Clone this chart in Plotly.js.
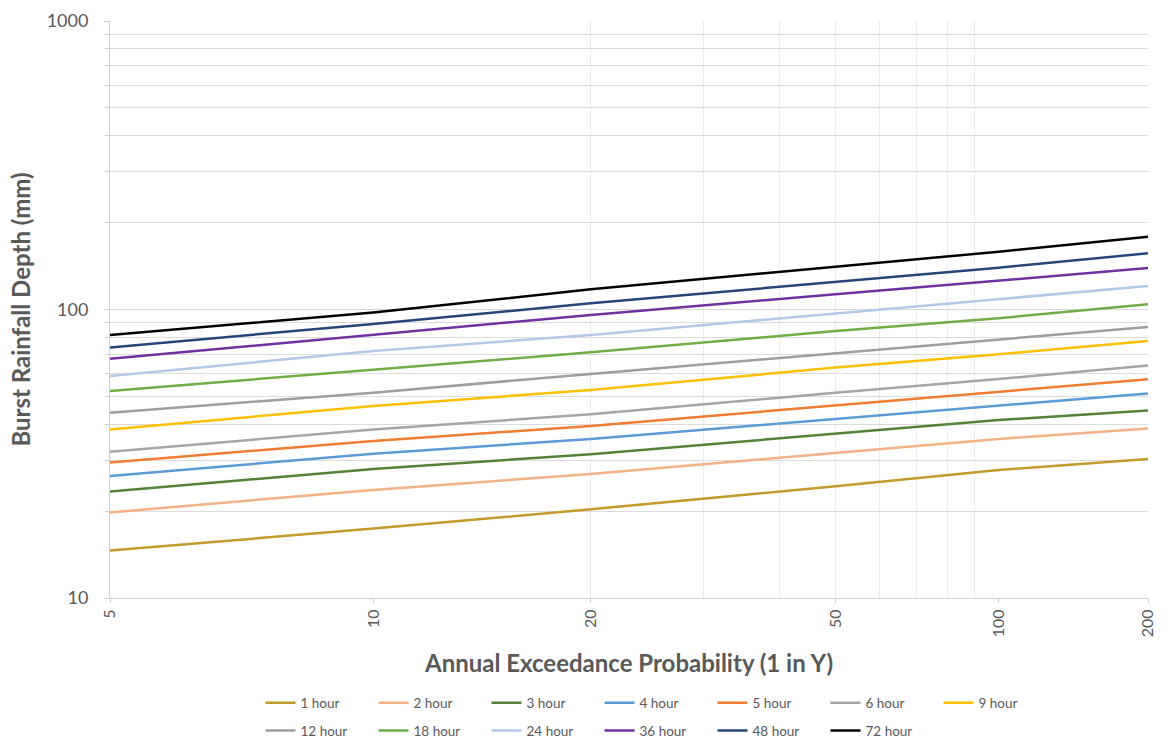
<!DOCTYPE html>
<html>
<head>
<meta charset="utf-8">
<script src="https://cdn.plot.ly/plotly-3.0.1.min.js"></script>
<style>
  html, body { margin: 0; padding: 0; background: #ffffff; }
  #chart { width: 1171px; height: 742px; }
</style>
</head>
<body>
<div id="chart"></div>
<script>
// ---- Data ----
const aep = [5, 10, 20, 50, 100, 200];           // Annual Exceedance Probability (1 in Y)
const xTickLabels = [5, 10, 20, 50, 100, 200];
const xMinorGrid = [20, 30, 40, 50, 60, 70, 80, 90];
const xMajorGrid = [10, 100];
const yTickLabels = [10, 100, 1000];
const yMinorTicks = [20, 30, 40, 50, 60, 70, 80, 90, 200, 300, 400, 500, 600, 700, 800, 900];

const durations = ['1 hour', '2 hour', '3 hour', '4 hour', '5 hour', '6 hour', '9 hour',
                   '12 hour', '18 hour', '24 hour', '36 hour', '48 hour', '72 hour'];

const d1h  = [14.6, 17.4, 20.3, 24.4, 27.8, 30.3];
const d2h  = [19.8, 23.7, 26.9, 31.9, 35.6, 38.7];
const d3h  = [23.4, 28.0, 31.5, 37.0, 41.4, 44.7];
const d4h  = [26.5, 31.6, 35.6, 41.7, 46.4, 51.2];
const d5h  = [29.5, 35.0, 39.5, 46.4, 51.8, 57.3];
const d6h  = [32.1, 38.4, 43.3, 51.5, 57.4, 63.9];
const d9h  = [38.4, 46.3, 52.6, 62.9, 70.0, 77.8];
const d12h = [43.9, 51.5, 59.8, 70.5, 78.4, 87.0];
const d18h = [52.2, 62.0, 71.1, 84.2, 93.3, 104.3];
const d24h = [58.8, 71.8, 81.6, 97.0, 108.5, 120.6];
const d36h = [67.5, 81.6, 95.7, 112.9, 125.6, 139.2];
const d48h = [73.9, 89.1, 105.1, 124.9, 139.6, 156.6];
const d72h = [81.6, 97.6, 117.5, 140.7, 158.6, 178.8];

const series = [d1h, d2h, d3h, d4h, d5h, d6h, d9h, d12h, d18h, d24h, d36h, d48h, d72h];
const colors = ['#C49A2C', '#F4B183', '#548235', '#5B9BD5', '#ED7D31', '#A5A5A5', '#FFC000',
                '#9E9E9E', '#70AD47', '#B4C7E7', '#7030A0', '#264478', '#000000'];

// ---- Normal probability scale for the AEP axis ----
function normInv(p) {
  const a = [-3.969683028665376e+01, 2.209460984245205e+02, -2.759285104469687e+02,
             1.383577518672690e+02, -3.066479806614716e+01, 2.506628277459239e+00];
  const b = [-5.447609879822406e+01, 1.615858368580409e+02, -1.556989798598866e+02,
             6.680131188771972e+01, -1.328068155288572e+01];
  const c = [-7.784894002430293e-03, -3.223964580411365e-01, -2.400758277161838e+00,
             -2.549732539343734e+00, 4.374664141464968e+00, 2.938163982698783e+00];
  const d = [7.784695709041462e-03, 3.224671290700398e-01, 2.445134137142996e+00,
             3.754408661907416e+00];
  const pl = 0.02425, ph = 1 - pl;
  let q, r;
  if (p < pl) {
    q = Math.sqrt(-2 * Math.log(p));
    return (((((c[0]*q+c[1])*q+c[2])*q+c[3])*q+c[4])*q+c[5]) / ((((d[0]*q+d[1])*q+d[2])*q+d[3])*q+1);
  } else if (p <= ph) {
    q = p - 0.5; r = q * q;
    return (((((a[0]*r+a[1])*r+a[2])*r+a[3])*r+a[4])*r+a[5])*q / (((((b[0]*r+b[1])*r+b[2])*r+b[3])*r+b[4])*r+1);
  } else {
    q = Math.sqrt(-2 * Math.log(1 - p));
    return -(((((c[0]*q+c[1])*q+c[2])*q+c[3])*q+c[4])*q+c[5]) / ((((d[0]*q+d[1])*q+d[2])*q+d[3])*q+1);
  }
}
const zOf = y => normInv(1 - 1 / y);

const FONT = 'Lato, "Open Sans", sans-serif';
const GREY = '#595959';

const traces = series.map((vals, i) => ({
  type: 'scatter',
  mode: 'lines',
  name: durations[i],
  x: aep.map(zOf),
  y: vals,
  line: { color: colors[i], width: 2.5 },
  legend: i < 7 ? 'legend' : 'legend2',
  hoverinfo: 'name+y'
}));

const legendCommon = {
  orientation: 'h',
  xref: 'paper', yref: 'paper',
  xanchor: 'left', yanchor: 'middle',
  entrywidth: 68, entrywidthmode: 'pixels',
  font: { family: FONT, size: 13.5, color: GREY },
  bgcolor: 'rgba(0,0,0,0)',
  itemwidth: 30,
  tracegroupgap: 0
};

const xRange = [zOf(aep[0]), zOf(aep[aep.length - 1])];

const layout = {
  width: 1171, height: 742,
  margin: { l: 110, r: 23, t: 21, b: 144, autoexpand: false },
  paper_bgcolor: '#ffffff',
  plot_bgcolor: '#ffffff',
  showlegend: true,
  xaxis: {
    type: 'linear',
    range: xRange,
    tickmode: 'array',
    tickvals: xTickLabels.map(zOf),
    ticktext: xTickLabels.map(String),
    tickangle: -90,
    tickfont: { family: FONT, size: 16, color: GREY },
    ticks: 'outside', ticklen: 4, tickcolor: '#d0d0d0',
    showgrid: false,
    minor: { tickmode: 'array', tickvals: xMinorGrid.map(zOf), showgrid: true, gridcolor: '#ebebeb', gridwidth: 1, ticks: '' },
    showline: true, linecolor: '#d0d0d0', linewidth: 1, mirror: false,
    zeroline: false,
    title: { text: 'Annual Exceedance Probability (1 in Y)', font: { family: FONT, size: 24, color: GREY, weight: 'bold' }, standoff: 18 }
  },
  xaxis2: {
    type: 'linear', overlaying: 'x', anchor: 'y', side: 'bottom',
    range: xRange,
    tickmode: 'array',
    tickvals: xMajorGrid.map(zOf),
    showticklabels: false, ticks: '',
    showgrid: true, gridcolor: '#c4c4c4', gridwidth: 1,
    zeroline: false, showline: false
  },
  yaxis: {
    type: 'log',
    range: [1, 3],
    tickmode: 'array',
    tickvals: yTickLabels,
    ticktext: yTickLabels.map(String),
    tickfont: { family: FONT, size: 18, color: GREY },
    ticklabelstandoff: 12,
    ticks: 'outside', ticklen: 5, tickcolor: '#d0d0d0',
    showgrid: true, gridcolor: '#d6d6d6', gridwidth: 1,
    minor: { tickmode: 'array', tickvals: yMinorTicks, showgrid: true, gridcolor: '#dcdcdc', gridwidth: 1, ticks: 'outside', ticklen: 4, tickcolor: '#d0d0d0' },
    showline: true, linecolor: '#d0d0d0', linewidth: 1,
    zeroline: false,
    title: { text: 'Burst Rainfall Depth (mm)', font: { family: FONT, size: 24, color: GREY, weight: 'bold' }, standoff: 9 }
  },
  legend: Object.assign({}, legendCommon, { x: 0.145, y: -0.182 }),
  legend2: Object.assign({}, legendCommon, { x: 0.145, y: -0.230 })
};

Plotly.newPlot('chart', traces, layout, { displayModeBar: false, responsive: false, staticPlot: false });
</script>
</body>
</html>
